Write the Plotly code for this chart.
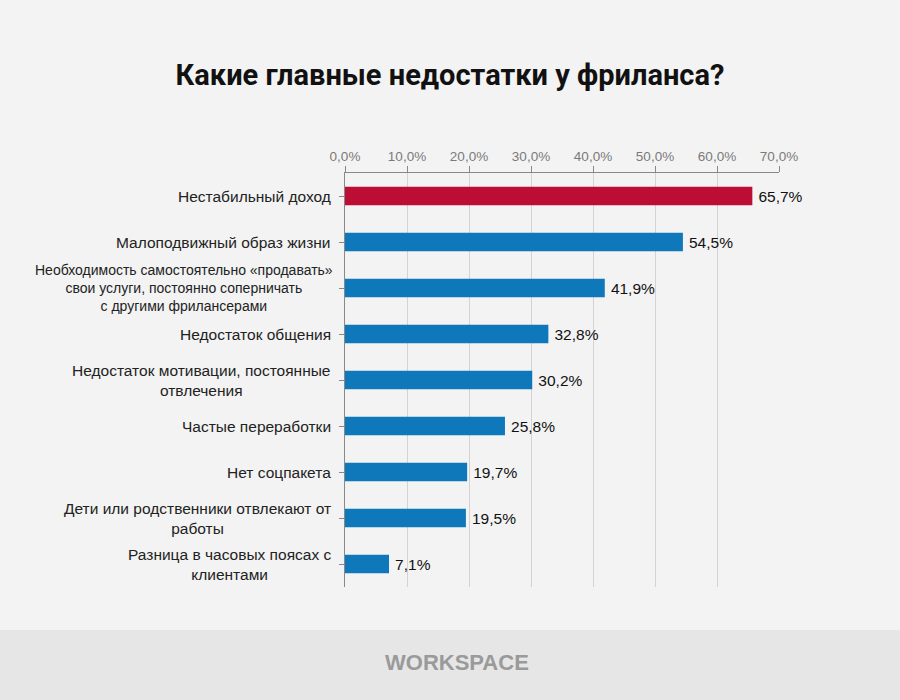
import plotly.graph_objects as go

categories = [
    "Нестабильный доход",
    "Малоподвижный образ жизни",
    "Необходимость самостоятельно «продавать»<br>свои услуги, постоянно соперничать<br>с другими фрилансерами",
    "Недостаток общения",
    "Недостаток мотивации, постоянные<br>отвлечения",
    "Частые переработки",
    "Нет соцпакета",
    "Дети или родственники отвлекают от<br>работы",
    "Разница в часовых поясах с<br>клиентами",
]
values = [65.7, 54.5, 41.9, 32.8, 30.2, 25.8, 19.7, 19.5, 7.1]
tick_vals = [0, 10, 20, 30, 40, 50, 60, 70]
tick_text = ["0,0%", "10,0%", "20,0%", "30,0%", "40,0%", "50,0%", "60,0%", "70,0%"]

RED = "#BC0D35"
BLUE = "#0E78BA"
colors = [RED] + [BLUE] * (len(values) - 1)
ids = list(range(len(categories)))

fig = go.Figure()
fig.add_trace(go.Bar(
    x=values, y=ids, orientation="h",
    marker=dict(color=colors, line=dict(width=0)),
    width=0.4,
    text=["\u2009" + f"{v:.1f}%".replace(".", ",") for v in values],
    textposition="outside",
    textfont=dict(family="Liberation Sans, Arial", size=15.5, color="#111"),
    cliponaxis=False,
    hoverinfo="skip",
))

annotations = []
for i, c in enumerate(categories):
    n_lines = c.count("<br>") + 1
    annotations.append(dict(
        x=0, xref="paper", y=i, yref="y", text=c, showarrow=False,
        xanchor="right", yanchor="middle", align="center",
        xshift=-10 if n_lines > 2 else -12,
        font=dict(family="Liberation Sans, Arial", size=14 if n_lines > 2 else 15.5, color="#222"),
    ))
annotations.append(dict(
    x=(457 - 345) / 434, xref="paper", y=-(662 - 587) / 414, yref="paper",
    xanchor="center", yanchor="middle",
    showarrow=False, text="<b>WORKSPACE</b>",
    font=dict(family="Liberation Sans, Arial", size=22, color="#9a9a9a"),
))

fig.update_layout(
    width=900, height=700,
    margin=dict(l=345, r=121, t=173, b=113),
    paper_bgcolor="#f3f3f3", plot_bgcolor="#f3f3f3",
    showlegend=False,
    title=dict(text="<b>Какие главные недостатки у фриланса?</b>",
               x=0.5, xref="container", xanchor="center",
               y=1 - 75 / 700, yanchor="middle",
               font=dict(family="Roboto", size=29, color="#111")),
    xaxis=dict(
        side="top", range=[0, 70], tickvals=tick_vals, ticktext=tick_text,
        showgrid=True, gridcolor="#d3d3d3", gridwidth=1,
        showline=True, linecolor="#888", linewidth=1,
        ticks="outside", ticklen=6, tickcolor="#888",
        tickfont=dict(family="Liberation Sans, Arial", size=13.5, color="#7a7a7a"),
        zeroline=False, fixedrange=True,
    ),
    yaxis=dict(
        range=[len(categories) - 0.5, -0.5], tickvals=ids, showticklabels=False,
        showline=True, linecolor="#888", linewidth=1,
        ticks="outside", ticklen=5, tickcolor="#888", tickson="boundaries",
        showgrid=False, zeroline=False, fixedrange=True,
    ),
    annotations=annotations,
    shapes=[dict(type="rect", xref="paper", yref="paper",
                 x0=-1, x1=2, y0=-(630 - 587) / 414, y1=-(700 - 587) / 414 - 0.05,
                 fillcolor="#e6e6e6", line=dict(width=0), layer="below")],
)

fig.write_html("out.html", config={"displayModeBar": False},
               post_script="document.body.style.margin='0';document.body.style.padding='0';")
